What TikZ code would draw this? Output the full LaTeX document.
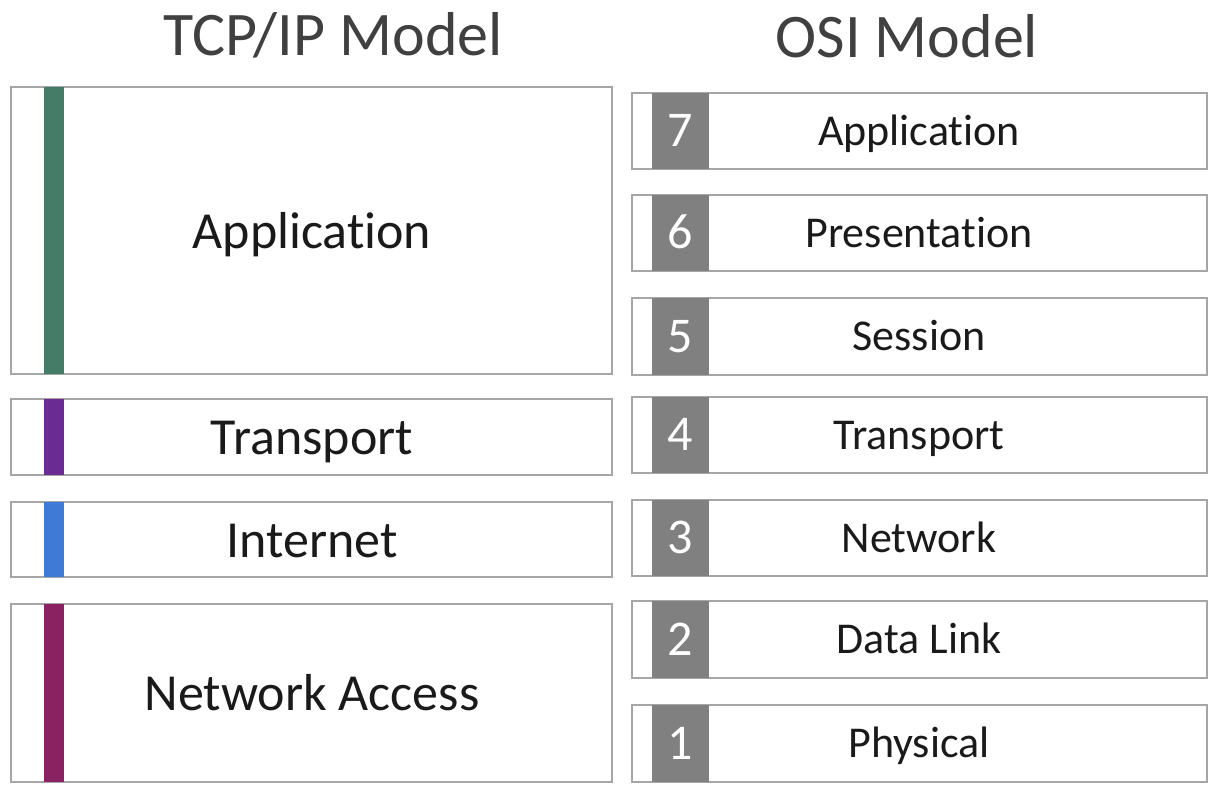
\documentclass[tikz,border=0pt]{standalone}
\usepackage{fontspec}
\setmainfont{Carlito}[RawFeature=-liga]
\definecolor{boxgray}{HTML}{A6A6A6}
\definecolor{numgray}{HTML}{808080}
\definecolor{titlegray}{HTML}{404040}
\definecolor{txt}{HTML}{1A1A1A}
\definecolor{appgreen}{HTML}{457C68}
\definecolor{trpurple}{HTML}{6A2B92}
\definecolor{inblue}{HTML}{3E7AD6}
\definecolor{namagenta}{HTML}{8A2262}
\begin{document}
\begin{tikzpicture}[x=1pt,y=-1pt,
  layerbox/.style={draw=boxgray,line width=2pt,fill=white},
  capc/.style={text depth=0pt,inner sep=0pt},
  ltext/.style={capc,text height=33.5pt,font=\fontsize{52}{52}\selectfont,text=txt},
  rtext/.style={capc,text height=28.3pt,font=\fontsize{44}{44}\selectfont,text=txt},
  ntext/.style={capc,text height=31.6pt,font=\fontsize{50}{50}\selectfont,text=white},
  ttext/.style={capc,text height=40pt,font=\fontsize{62}{62}\selectfont,text=titlegray}]
\useasboundingbox (0,0) rectangle (1218,792);
\fill[white] (0,0) rectangle (1218,792);
% titles
\node[ttext] (t1) at (333,36) {TCP/IP Model};
\node[ttext] (t2) at (907,38) {OSI Model};
% left column
\foreach \nm/\ya/\yb/\col/\lab in {app/87/374/appgreen/Application,tra/399/475/trpurple/Transport,int/502/577/inblue/Internet,net/604/782/namagenta/Network Access}{
  \draw[layerbox] (11,\ya) rectangle (612,\yb);
  \fill[\col] (44,\ya) rectangle (64,\yb);
  \node[ltext] (L\nm) at (312,{(\ya+\yb)/2+1}) {\lab};
}
% right column
\foreach \n/\ya/\yb/\lab in {7/93/169/Application,6/195/271/Presentation,5/298/375/Session,4/397/473/Transport,3/500/576/Network,2/601/678/Data Link,1/705/782/Physical}{
  \draw[layerbox] (632,\ya) rectangle (1207,\yb);
  \fill[numgray] (652,\ya) rectangle (709,\yb);
  \node[ntext] (N\n) at (680.5,{(\ya+\yb)/2}) {\n};
  \node[rtext] (R\n) at (919,{(\ya+\yb)/2}) {\lab};
}
\end{tikzpicture}
\end{document}
